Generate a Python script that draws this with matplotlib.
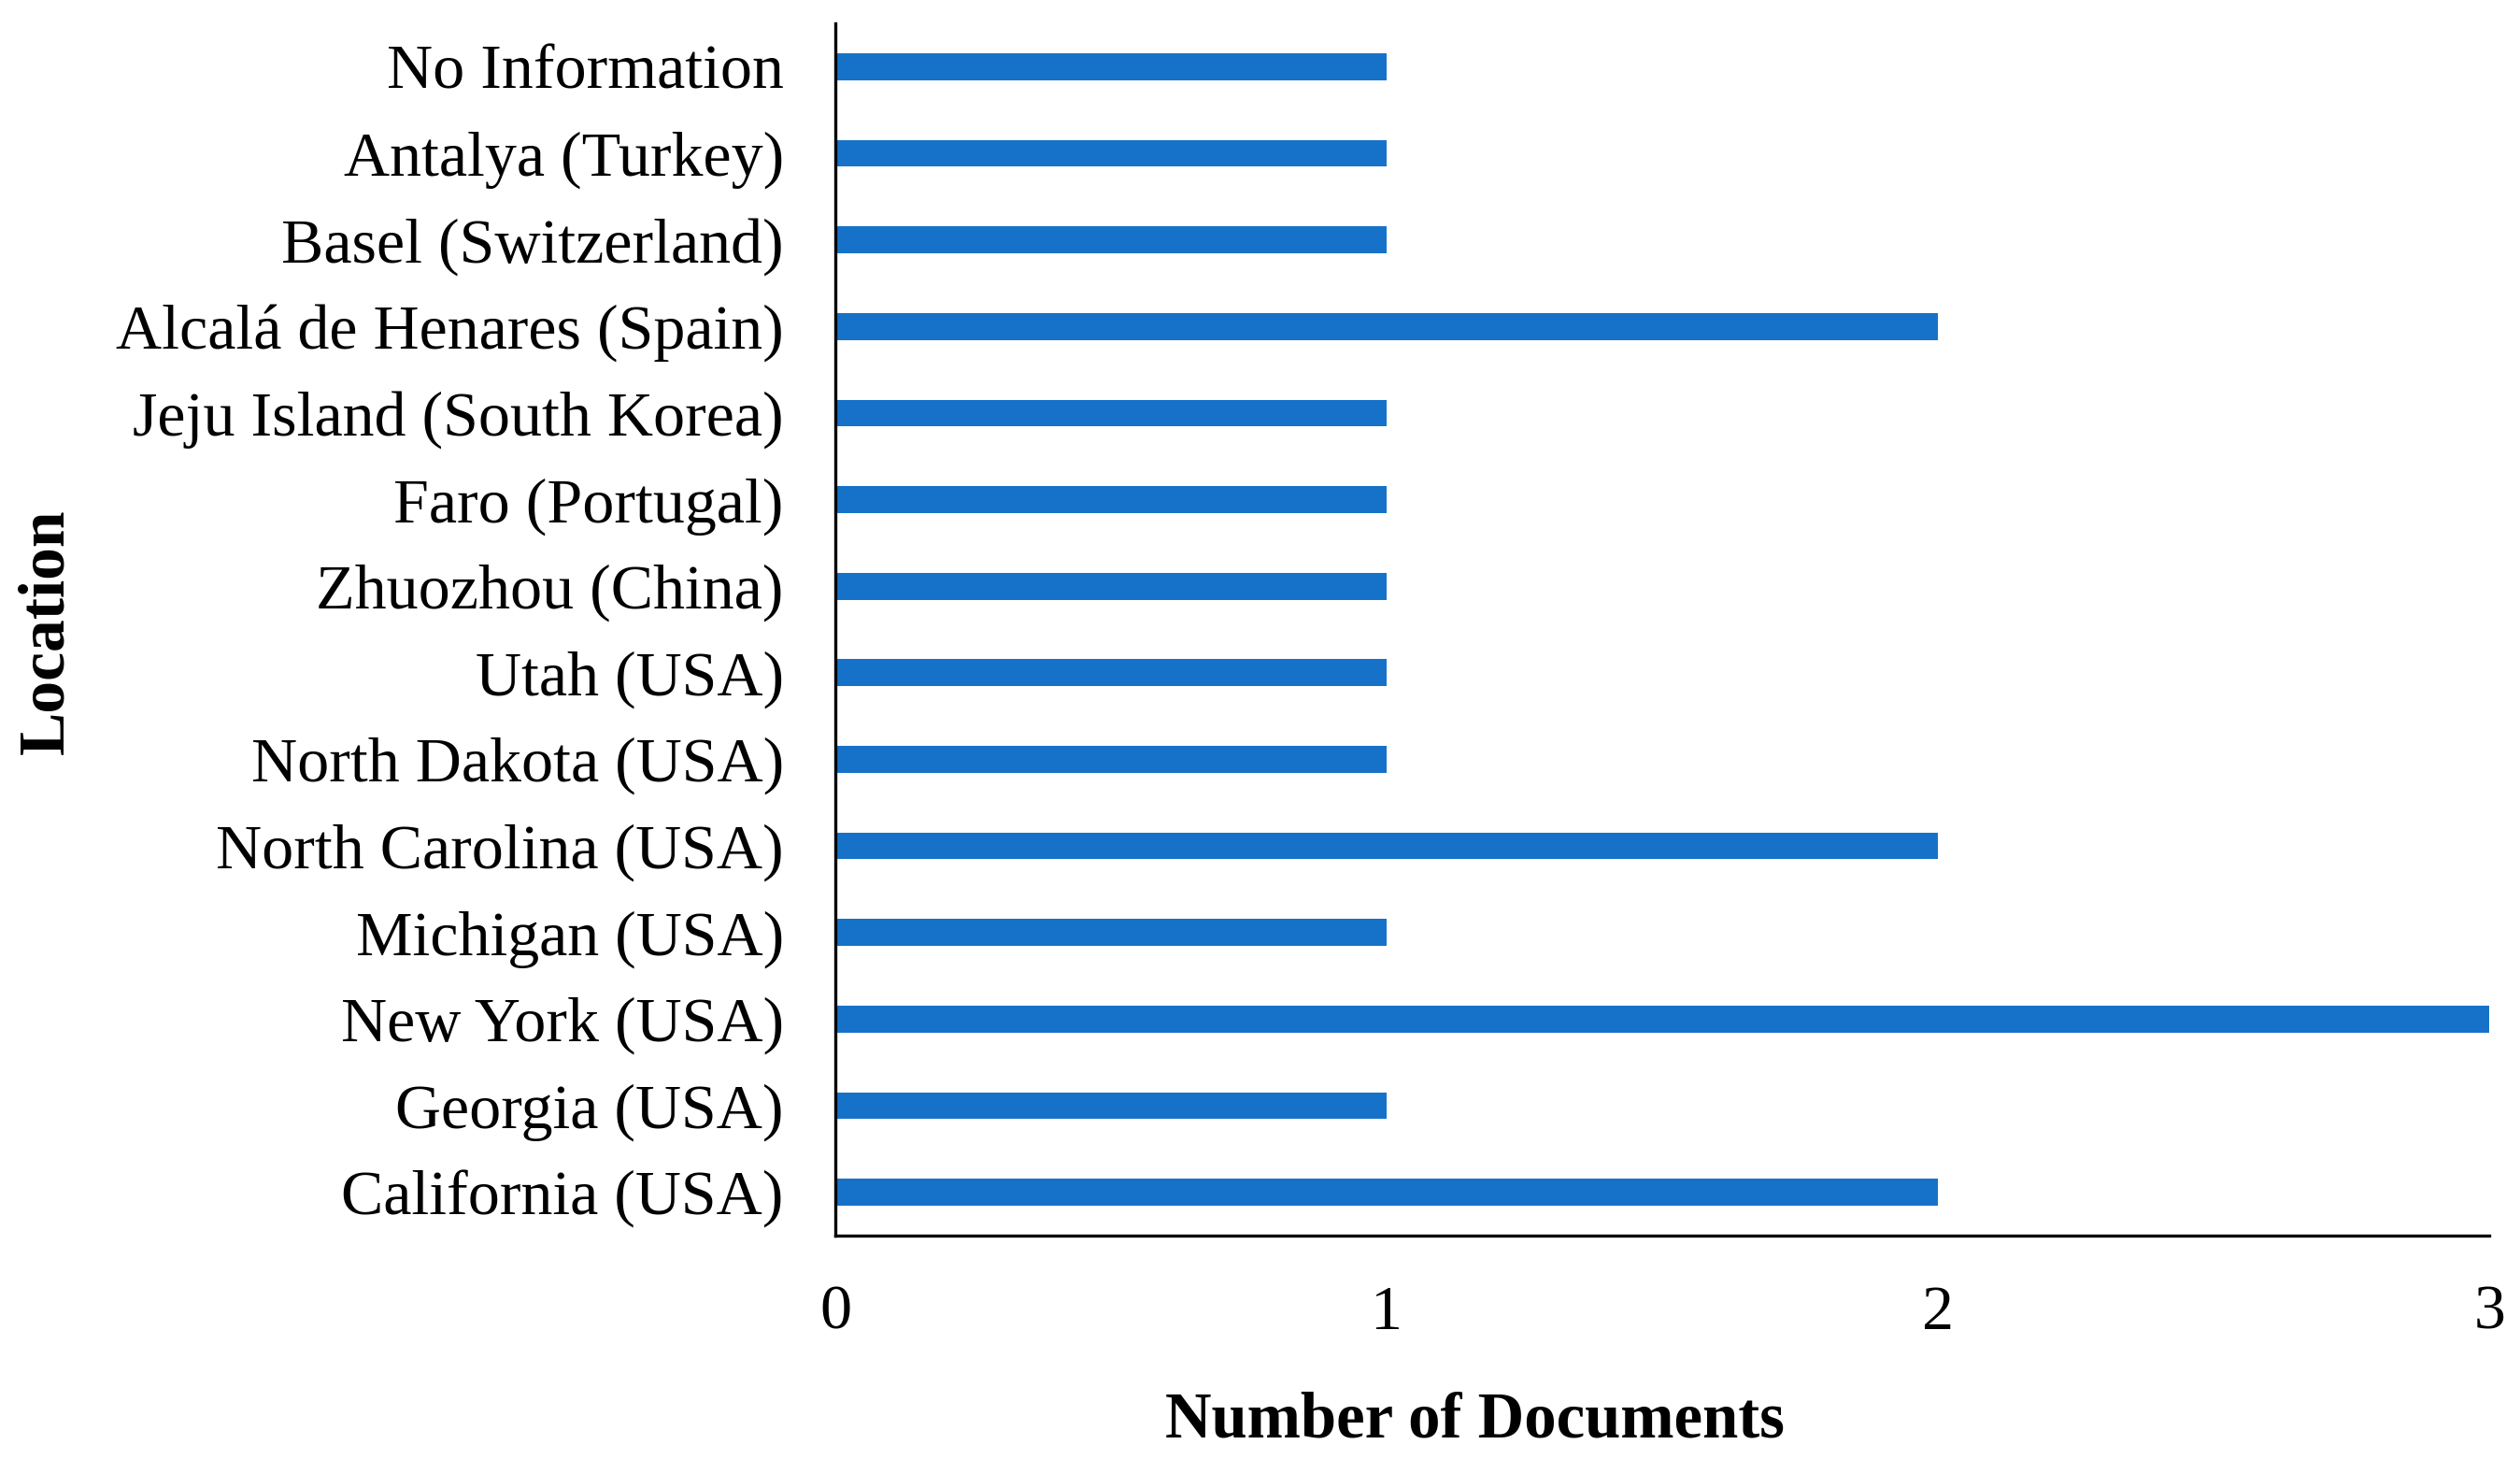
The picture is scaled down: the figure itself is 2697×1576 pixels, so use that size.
import matplotlib
matplotlib.use("Agg")
import matplotlib.pyplot as plt

# Categories listed bottom to top
locations = [
    "California (USA)",
    "Georgia (USA)",
    "New York (USA)",
    "Michigan (USA)",
    "North Carolina (USA)",
    "North Dakota (USA)",
    "Utah (USA)",
    "Zhuozhou (China)",
    "Faro (Portugal)",
    "Jeju Island (South Korea)",
    "Alcalá de Henares (Spain)",
    "Basel (Switzerland)",
    "Antalya (Turkey)",
    "No Information",
]
documents = [2, 1, 3, 1, 2, 1, 1, 1, 1, 1, 2, 1, 1, 1]
x_ticks = [0, 1, 2, 3]

plt.rcParams['font.family'] = ['Liberation Serif', 'DejaVu Serif']

fig = plt.figure(figsize=(26.97, 15.76), dpi=100)
ax = fig.add_axes([0.3316, 0.1612, 0.6562, 0.8229])

y = range(len(locations))
ax.barh(y, documents, height=0.31, color='#1672C8')

ax.set_ylim(-0.5, len(locations) - 0.5)
ax.set_xlim(0, 3)
ax.set_yticks(list(y))
ax.set_yticklabels(locations, fontsize=49)
ax.set_xticks(x_ticks)
ax.set_xticklabels([str(t) for t in x_ticks], fontsize=49)
ax.tick_params(axis='y', length=0, pad=40)
ax.tick_params(axis='x', length=0, pad=38)

for s in ['top', 'right']:
    ax.spines[s].set_visible(False)
for s in ['left', 'bottom']:
    ax.spines[s].set_linewidth(2.4)
    ax.spines[s].set_color('black')

fig.text(1578 / 2697, 1 - 1521 / 1576, "Number of Documents", fontsize=49.5,
         fontweight='bold', ha='center', va='center')
fig.text(50 / 2697, 1 - 676 / 1576, "Location", fontsize=50,
         fontweight='bold', rotation=90, ha='center', va='center')

fig.savefig("out.png", dpi=100)
